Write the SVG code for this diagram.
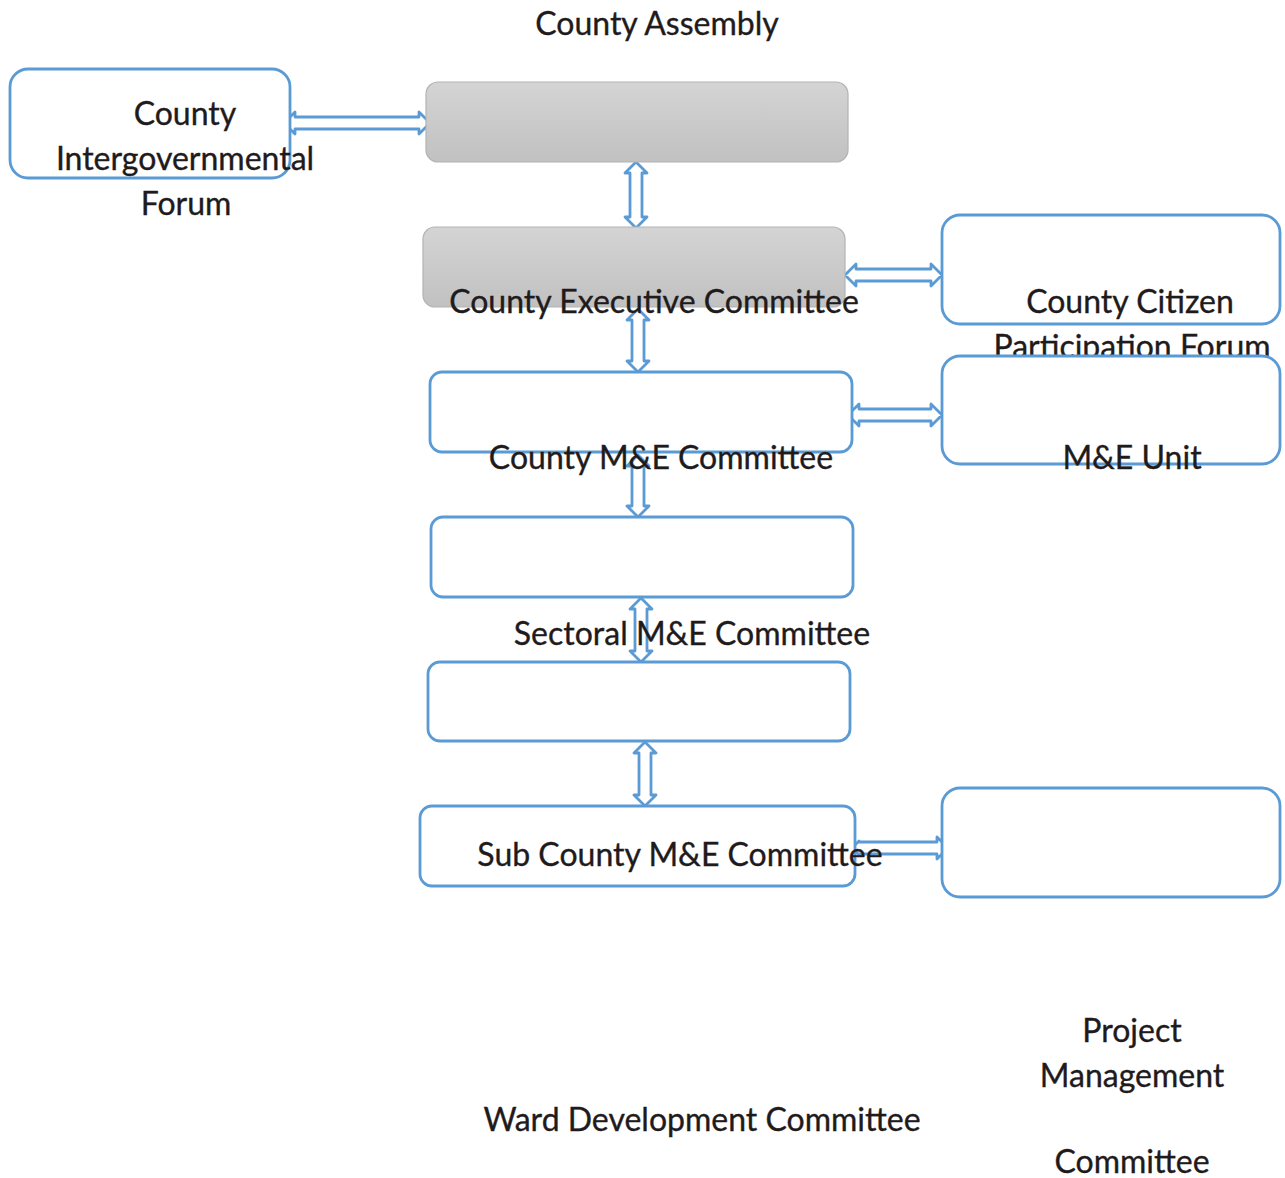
<svg xmlns="http://www.w3.org/2000/svg" width="1285" height="1178" viewBox="0 0 1285 1178">
  <defs>
    <linearGradient id="grayFill" x1="0" y1="0" x2="0" y2="1">
      <stop offset="0" stop-color="#d4d4d4"/>
      <stop offset="1" stop-color="#c1c1c1"/>
    </linearGradient>
    <style>
      .box { fill: #ffffff; stroke: #5b9bd5; stroke-width: 2.8; }
      .gbox { fill: url(#grayFill); stroke: #b3b3b3; stroke-width: 1.2; }
      .arrow { fill: #ffffff; stroke: #5b9bd5; stroke-width: 2.8; stroke-linejoin: round; }
      .lbl { font-family: Lato, "Open Sans", sans-serif; font-size: 32px; fill: #1f1b1c; text-anchor: middle; stroke: #1f1b1c; stroke-width: 0.35; }
    </style>
  </defs>
  <rect width="1285" height="1178" fill="#ffffff"/>

  <!-- connectors: two-headed block arrows -->
  <g id="connectors">
    <path class="arrow" d="M284,123 L295,112 L295,117 L419,117 L419,112 L430,123 L419,134 L419,129 L295,129 L295,134 Z"/>
    <path class="arrow" d="M636,162 L647,173 L642,173 L642,217 L647,217 L636,228 L625,217 L630,217 L630,173 L625,173 Z"/>
    <path class="arrow" d="M845,275 L856,264 L856,269 L931,269 L931,264 L942,275 L931,286 L931,281 L856,281 L856,286 Z"/>
    <path class="arrow" d="M638,309 L649,320 L644,320 L644,361 L649,361 L638,372 L627,361 L632,361 L632,320 L627,320 Z"/>
    <path class="arrow" d="M848,415 L859,404 L859,409 L931,409 L931,404 L942,415 L931,426 L931,421 L859,421 L859,426 Z"/>
    <path class="arrow" d="M638,455 L649,466 L644,466 L644,506 L649,506 L638,517 L627,506 L632,506 L632,466 L627,466 Z"/>
    <path class="arrow" d="M641,598 L652,609 L647,609 L647,651 L652,651 L641,662 L630,651 L635,651 L635,609 L630,609 Z"/>
    <path class="arrow" d="M645,742 L656,753 L651,753 L651,795 L656,795 L645,806 L634,795 L639,795 L639,753 L634,753 Z"/>
    <path class="arrow" d="M852,848 L859,841 L859,842 L937,842 L937,837 L948,848 L937,859 L937,854 L859,854 L859,855 Z"/>
  </g>

  <!-- nodes -->
  <g id="node-assembly">
    <rect class="gbox" x="426" y="82" width="422" height="80" rx="12"/>
    <text class="lbl" x="657" y="35">County Assembly</text>
  </g>
  <g id="node-intergov-forum">
    <rect class="box" x="10" y="69" width="280" height="109" rx="18"/>
    <text class="lbl" x="185" y="125">County</text>
    <text class="lbl" x="185" y="170">Intergovernmental</text>
    <text class="lbl" x="186" y="215">Forum</text>
  </g>
  <g id="node-executive">
    <rect class="gbox" x="423" y="227" width="422" height="80" rx="12"/>
    <text class="lbl" x="654" y="313">County Executive Committee</text>
  </g>
  <g id="node-citizen-forum">
    <rect class="box" x="942" y="215" width="338" height="109" rx="18"/>
    <text class="lbl" x="1130" y="313">County Citizen</text>
    <text class="lbl" x="1132" y="358">Participation Forum</text>
  </g>
  <g id="node-county-me">
    <rect class="box" x="430" y="372" width="422" height="80" rx="12"/>
    <text class="lbl" x="661" y="469">County M&amp;E Committee</text>
  </g>
  <g id="node-me-unit">
    <rect class="box" x="942" y="356" width="338" height="108" rx="18"/>
    <text class="lbl" x="1132" y="469">M&amp;E Unit</text>
  </g>
  <g id="node-sectoral-me">
    <rect class="box" x="431" y="517" width="422" height="80" rx="12"/>
    <text class="lbl" x="692" y="645">Sectoral M&amp;E Committee</text>
  </g>
  <g id="node-ward">
    <rect class="box" x="428" y="662" width="422" height="79" rx="12"/>
    <text class="lbl" x="702" y="1131">Ward Development Committee</text>
  </g>
  <g id="node-subcounty-me">
    <rect class="box" x="420" y="806" width="435" height="80" rx="12"/>
    <text class="lbl" x="680" y="866">Sub County M&amp;E Committee</text>
  </g>
  <g id="node-project-mgmt">
    <rect class="box" x="942" y="788" width="338" height="109" rx="18"/>
    <text class="lbl" x="1132" y="1042">Project</text>
    <text class="lbl" x="1132" y="1087">Management</text>
    <text class="lbl" x="1132" y="1173">Committee</text>
  </g>
</svg>
